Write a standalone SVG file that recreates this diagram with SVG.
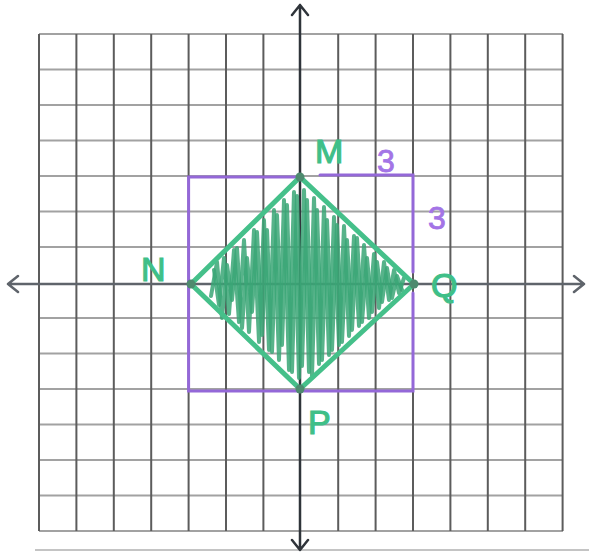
<svg xmlns="http://www.w3.org/2000/svg" width="589" height="552" viewBox="0 0 589 552">
<style>
.gv{stroke:#5c5c5c;stroke-width:2;fill:none}
.gh{stroke:#a2a2a2;stroke-width:2;fill:none}
.axis{stroke-width:2.5;fill:none;stroke-linecap:round;stroke-linejoin:round}
.rect{stroke:#9468d8;stroke-width:3;fill:none;stroke-linecap:round}
.edge{stroke:#45c08a;stroke-width:5;fill:none;stroke-linecap:round}
.scrib{stroke:#3aa675;stroke-width:4;fill:none;stroke-linejoin:round;stroke-linecap:round;opacity:0.85}
.dot{fill:#4d8a6e}
.lg{font-family:"Liberation Sans",Arial,sans-serif;font-size:34px;fill:#3fbf88;stroke:#3fbf88;stroke-width:1.2}
.lp{font-family:"Liberation Sans",Arial,sans-serif;font-size:32px;fill:#a374e6;stroke:#a374e6;stroke-width:0.8}
</style>
<rect width="589" height="552" fill="#ffffff"/>
<g id="grid">
<path class="gh" d="M39 34H563M39 69.5H563M39 105H563M39 140.5H563M39 176H563M39 211.5H563M39 247H563M39 318H563M39 353.5H563M39 389H563M39 424.5H563M39 460H563M39 495.5H563M39 531H563"/>
<path class="gv" d="M39 34V531M76.4 34V531M113.8 34V531M151.2 34V531M188.6 34V531M226 34V531M263.4 34V531M338.2 34V531M375.6 34V531M413 34V531M450.4 34V531M487.8 34V531M525.2 34V531M562.6 34V531"/>
<path d="M35 550H589" stroke="#b0b0b0" stroke-width="1.5"/>
</g>
<g id="axes">
<path class="axis" d="M8 284H584M18 276L8 284L18 292M574 276L584 284L574 292" stroke="#5f646b"/>
<path class="axis" d="M300 5V550M292 15L300 5L308 15M292 540L300 550L308 540" stroke="#2f343a"/>
</g>
<g id="square">
<path class="rect" d="M300 177H188.6V391H413V293M413 272V175H320"/>
<text class="lp" x="377" y="172">3</text>
<text class="lp" x="428" y="229">3</text>
</g>
<g id="shading">
<polyline class="scrib" points="214,270 219,305 224,258 229,314 234,250 239,322 244,240 249,332 254,230 259,342 264,220 269,350 274,210 279,360 284,200 289,370 294,192 299,378 304,190 309,372 314,198 319,364 324,207 329,355 334,217 339,345 344,226 349,336 354,236 359,326 364,245 369,318 374,254 379,308 384,262 389,300 394,270 399,293 404,278"/>
<polyline class="scrib" points="211,296 217,262 222,318 227,265 232,300 237,248 242,328 247,258 252,312 257,232 262,335 267,230 272,352 277,215 282,345 287,205 292,372 297,196 302,366 307,200 312,376 317,210 322,360 327,220 332,350 337,225 342,342 347,240 352,330 357,238 362,322 367,258 372,312 377,262 382,302 387,268 392,298 397,276 402,290"/>
</g>
<g id="connectors">
<path class="edge" d="M300 177L191 284"/>
<path class="edge" d="M191 284L300 389"/>
<path class="edge" d="M300 389L414 284"/>
<path class="edge" d="M414 284L300 177"/>
</g>
<g id="node-M">
<circle class="dot" cx="300" cy="177" r="4.5"/>
<text class="lg" x="315" y="163">M</text>
</g>
<g id="node-N">
<circle class="dot" cx="191" cy="284" r="4.5"/>
<text class="lg" x="141" y="281">N</text>
</g>
<g id="node-Q">
<circle class="dot" cx="414" cy="284" r="4.5"/>
<text class="lg" x="431" y="297">Q</text>
</g>
<g id="node-P">
<circle class="dot" cx="300" cy="389" r="4.5"/>
<text class="lg" x="308" y="434">P</text>
</g>
</svg>
